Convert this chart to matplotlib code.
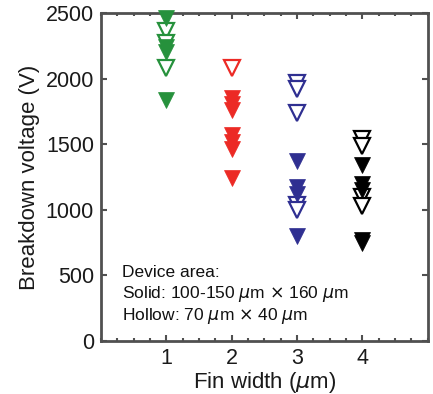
import numpy as np
import matplotlib
matplotlib.use('Agg')
import matplotlib.pyplot as plt
from matplotlib.ticker import MultipleLocator

plt.rcParams['font.family'] = ['Liberation Sans', 'DejaVu Sans']
plt.rcParams['mathtext.fontset'] = 'dejavusans'

# breakdown voltage (V), per fin width (um)
fin_widths = [1, 2, 3, 4]
colors = ['#26913c', '#ec2a25', '#2f2f91', '#000000']

solid_v = [
    [2460, 2200, 2240, 1840],
    [1850, 1805, 1760, 1570, 1520, 1460, 1245],
    [1370, 1175, 1120, 800],
    [1340, 1200, 1150, 770, 750],
]
hollow_v = [
    [2360, 2270, 2080],
    [2080],
    [1970, 1920, 1735, 1040, 995],
    [1540, 1490, 1100, 1030],
]

fig = plt.figure(figsize=(4.33, 3.94), dpi=100)
ax = fig.add_axes([0.233, 0.1345, 0.755, 0.8325])

for w, c, sv, hv in zip(fin_widths, colors, solid_v, hollow_v):
    ax.plot([w] * len(hv), hv, 'v', ms=11.5, mfc='white', mec=c, mew=1.6,
            ls='none', clip_on=False, zorder=3)
    ax.plot([w] * len(sv), sv, 'v', ms=11.5, mfc=c, mec=c, mew=0.5,
            ls='none', clip_on=False, zorder=4)

ax.set_xlim(0, 5)
ax.set_ylim(0, 2500)
ax.set_xticks([1, 2, 3, 4])
ax.xaxis.set_minor_locator(MultipleLocator(0.25))
ax.set_yticks([0, 500, 1000, 1500, 2000, 2500])

for s in ax.spines.values():
    s.set_linewidth(2.0)
    s.set_color('#505050')
ax.tick_params(which='both', direction='in', top=True, right=True,
               color='#505050', labelsize=15.5, labelcolor='#1a1a1a')
ax.tick_params(which='major', length=4, width=1.5, pad=5)
ax.tick_params(which='minor', length=2.5, width=1.5)

ax.set_xlabel(r'Fin width ($\mu$m)', fontsize=16, color='#1a1a1a', labelpad=1)
ax.set_ylabel('Breakdown voltage (V)', fontsize=16, color='#1a1a1a', labelpad=4)

notes = ['Device area:',
         r'Solid: 100-150 $\mu$m $\times$ 160 $\mu$m',
         r'Hollow: 70 $\mu$m $\times$ 40 $\mu$m']
for i, t in enumerate(notes):
    ax.text(0.064, 0.196 - i * 0.066, t, transform=ax.transAxes,
            fontsize=12.5, va='baseline', ha='left', color='#111111')

fig.savefig('out.png', dpi=100)
